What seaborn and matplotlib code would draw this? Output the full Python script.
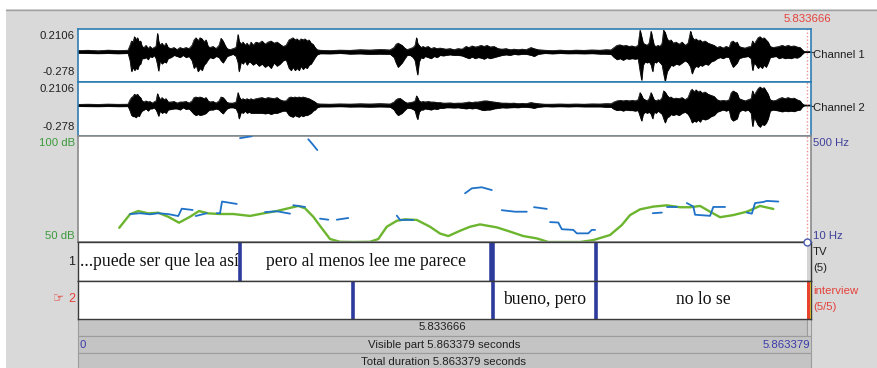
import numpy as np
import pandas as pd
import matplotlib
matplotlib.use("Agg")
import matplotlib.pyplot as plt
from matplotlib.patches import Rectangle
import seaborn as sns

# ---------------- data ----------------
TOTAL = 5.863379
CURSOR_T = 5.833666
WAVE_YMIN, WAVE_YMAX = -0.278, 0.2106
DB_MIN, DB_MAX = 50, 100
HZ_MIN, HZ_MAX = 10, 500

# waveform amplitude envelope (seconds, upper / lower values per channel)
WAVE_T = [0.000, 0.080, 0.160, 0.240, 0.320, 0.400, 0.416, 0.428, 0.440, 0.452,
          0.464, 0.476, 0.488, 0.500, 0.512, 0.528, 0.544, 0.560, 0.576, 0.592,
          0.608, 0.624, 0.636, 0.644, 0.656, 0.672, 0.688, 0.704, 0.720, 0.744,
          0.768, 0.792, 0.816, 0.840, 0.864, 0.888, 0.912, 0.928, 0.944, 0.960,
          0.976, 0.992, 1.008, 1.024, 1.040, 1.056, 1.080, 1.104, 1.128, 1.144,
          1.160, 1.176, 1.192, 1.216, 1.240, 1.264, 1.280, 1.288, 1.304, 1.320,
          1.336, 1.352, 1.368, 1.384, 1.400, 1.424, 1.448, 1.472, 1.496, 1.520,
          1.544, 1.568, 1.592, 1.616, 1.640, 1.664, 1.688, 1.704, 1.720, 1.736,
          1.752, 1.768, 1.784, 1.800, 1.816, 1.832, 1.848, 1.864, 1.880, 1.896,
          1.912, 1.936, 2.016, 2.096, 2.176, 2.256, 2.336, 2.416, 2.496, 2.528,
          2.544, 2.560, 2.576, 2.592, 2.608, 2.632, 2.656, 2.680, 2.696, 2.708,
          2.716, 2.728, 2.744, 2.760, 2.776, 2.800, 2.824, 2.848, 2.872, 2.896,
          2.920, 2.944, 2.976, 3.008, 3.040, 3.072, 3.104, 3.128, 3.152, 3.176,
          3.200, 3.224, 3.248, 3.272, 3.296, 3.328, 3.360, 3.392, 3.424, 3.456,
          3.488, 3.520, 3.552, 3.584, 3.624, 3.648, 3.680, 3.736, 3.792, 3.856,
          3.920, 3.984, 4.048, 4.112, 4.176, 4.224, 4.264, 4.288, 4.312, 4.336,
          4.360, 4.384, 4.408, 4.432, 4.456, 4.480, 4.496, 4.508, 4.520, 4.536,
          4.552, 4.568, 4.584, 4.596, 4.608, 4.624, 4.640, 4.656, 4.672, 4.684,
          4.696, 4.712, 4.728, 4.744, 4.760, 4.784, 4.808, 4.832, 4.856, 4.880,
          4.900, 4.912, 4.928, 4.944, 4.960, 4.976, 4.992, 5.016, 5.040, 5.064,
          5.088, 5.112, 5.136, 5.160, 5.184, 5.208, 5.224, 5.240, 5.256, 5.272,
          5.288, 5.312, 5.336, 5.360, 5.384, 5.396, 5.408, 5.424, 5.440, 5.456,
          5.472, 5.488, 5.504, 5.520, 5.536, 5.560, 5.584, 5.608, 5.632, 5.656,
          5.680, 5.704, 5.728, 5.752, 5.776, 5.792, 5.808, 5.863]
CH1_HI = [0.012, 0.015, 0.010, 0.016, 0.012, 0.015, 0.06, 0.10, 0.09, 0.14,
          0.11, 0.13, 0.09, 0.10, 0.05, 0.04, 0.06, 0.03, 0.05, 0.03,
          0.04, 0.05, 0.17, 0.10, 0.06, 0.08, 0.05, 0.08, 0.04, 0.03,
          0.04, 0.02, 0.04, 0.03, 0.04, 0.03, 0.06, 0.11, 0.13, 0.10,
          0.13, 0.12, 0.09, 0.11, 0.05, 0.04, 0.05, 0.03, 0.06, 0.125,
          0.10, 0.06, 0.03, 0.02, 0.03, 0.04, 0.16, 0.10, 0.07, 0.09,
          0.06, 0.08, 0.05, 0.09, 0.06, 0.09, 0.08, 0.10, 0.07, 0.09,
          0.10, 0.08, 0.09, 0.07, 0.05, 0.06, 0.11, 0.12, 0.13, 0.11,
          0.12, 0.10, 0.12, 0.11, 0.12, 0.10, 0.11, 0.08, 0.07, 0.04,
          0.02, 0.015, 0.012, 0.016, 0.014, 0.020, 0.017, 0.022, 0.018, 0.04,
          0.07, 0.08, 0.07, 0.06, 0.04, 0.02, 0.03, 0.04, 0.06, 0.13,
          0.08, 0.06, 0.04, 0.05, 0.04, 0.05, 0.03, 0.04, 0.03, 0.035,
          0.03, 0.025, 0.03, 0.02, 0.03, 0.025, 0.05, 0.04, 0.055, 0.045,
          0.05, 0.06, 0.05, 0.06, 0.045, 0.05, 0.03, 0.025, 0.03, 0.02,
          0.025, 0.02, 0.025, 0.02, 0.04, 0.03, 0.02, 0.015, 0.012, 0.016,
          0.012, 0.016, 0.014, 0.018, 0.015, 0.02, 0.018, 0.04, 0.06, 0.065,
          0.055, 0.06, 0.05, 0.055, 0.045, 0.06, 0.20, 0.14, 0.08, 0.07,
          0.06, 0.08, 0.19, 0.12, 0.06, 0.05, 0.06, 0.05, 0.08, 0.20,
          0.18, 0.12, 0.10, 0.11, 0.08, 0.09, 0.07, 0.09, 0.06, 0.08,
          0.19, 0.14, 0.11, 0.12, 0.10, 0.11, 0.09, 0.10, 0.08, 0.07,
          0.06, 0.04, 0.05, 0.035, 0.05, 0.04, 0.09, 0.10, 0.08, 0.09,
          0.05, 0.04, 0.035, 0.045, 0.05, 0.10, 0.07, 0.10, 0.13, 0.14,
          0.12, 0.13, 0.11, 0.09, 0.05, 0.04, 0.045, 0.05, 0.06, 0.05,
          0.06, 0.05, 0.055, 0.045, 0.04, 0.02, 0.004, 0.002]
CH1_LO = [-0.010, -0.012, -0.014, -0.012, -0.015, -0.012, -0.08, -0.18, -0.14, -0.17,
          -0.15, -0.16, -0.12, -0.11, -0.06, -0.06, -0.05, -0.07, -0.04, -0.05,
          -0.03, -0.06, -0.12, -0.175, -0.08, -0.11, -0.09, -0.10, -0.06, -0.05,
          -0.03, -0.04, -0.05, -0.03, -0.05, -0.04, -0.08, -0.15, -0.12, -0.18,
          -0.15, -0.17, -0.12, -0.10, -0.07, -0.05, -0.06, -0.04, -0.05, -0.08,
          -0.10, -0.07, -0.04, -0.03, -0.02, -0.04, -0.10, -0.18, -0.09, -0.11,
          -0.08, -0.12, -0.09, -0.10, -0.12, -0.10, -0.13, -0.11, -0.14, -0.12,
          -0.15, -0.10, -0.13, -0.11, -0.08, -0.07, -0.15, -0.17, -0.14, -0.17,
          -0.15, -0.17, -0.13, -0.16, -0.14, -0.15, -0.12, -0.11, -0.08, -0.05,
          -0.025, -0.015, -0.016, -0.012, -0.018, -0.016, -0.020, -0.018, -0.020, -0.05,
          -0.10, -0.14, -0.12, -0.10, -0.07, -0.03, -0.03, -0.05, -0.08, -0.16,
          -0.21, -0.09, -0.05, -0.06, -0.04, -0.05, -0.06, -0.04, -0.05, -0.03,
          -0.035, -0.03, -0.025, -0.03, -0.03, -0.035, -0.05, -0.06, -0.045, -0.06,
          -0.05, -0.055, -0.065, -0.05, -0.06, -0.05, -0.04, -0.03, -0.025, -0.03,
          -0.02, -0.025, -0.02, -0.02, -0.03, -0.04, -0.02, -0.012, -0.016, -0.012,
          -0.015, -0.014, -0.016, -0.014, -0.018, -0.018, -0.022, -0.05, -0.07, -0.06,
          -0.075, -0.06, -0.065, -0.06, -0.065, -0.06, -0.18, -0.26, -0.12, -0.09,
          -0.10, -0.09, -0.12, -0.18, -0.09, -0.10, -0.08, -0.10, -0.12, -0.20,
          -0.27, -0.18, -0.15, -0.12, -0.13, -0.11, -0.12, -0.10, -0.08, -0.10,
          -0.14, -0.20, -0.15, -0.13, -0.14, -0.12, -0.13, -0.11, -0.12, -0.09,
          -0.08, -0.06, -0.05, -0.06, -0.045, -0.05, -0.10, -0.14, -0.12, -0.10,
          -0.06, -0.05, -0.045, -0.04, -0.06, -0.17, -0.10, -0.12, -0.15, -0.13,
          -0.15, -0.12, -0.14, -0.10, -0.05, -0.045, -0.04, -0.06, -0.05, -0.06,
          -0.055, -0.06, -0.05, -0.055, -0.04, -0.02, -0.004, -0.002]
CH2_HI = [0.008, 0.010, 0.008, 0.011, 0.009, 0.010, 0.05, 0.07, 0.08, 0.10,
          0.09, 0.10, 0.08, 0.07, 0.04, 0.03, 0.04, 0.03, 0.035, 0.02,
          0.03, 0.04, 0.105, 0.08, 0.05, 0.07, 0.05, 0.06, 0.03, 0.03,
          0.035, 0.02, 0.03, 0.03, 0.035, 0.02, 0.04, 0.07, 0.075, 0.07,
          0.075, 0.07, 0.06, 0.07, 0.04, 0.03, 0.035, 0.02, 0.04, 0.075,
          0.07, 0.05, 0.025, 0.02, 0.02, 0.03, 0.115, 0.08, 0.05, 0.06,
          0.05, 0.06, 0.05, 0.06, 0.05, 0.06, 0.065, 0.07, 0.06, 0.07,
          0.065, 0.06, 0.07, 0.05, 0.04, 0.04, 0.07, 0.075, 0.07, 0.075,
          0.07, 0.075, 0.07, 0.075, 0.07, 0.065, 0.06, 0.05, 0.04, 0.03,
          0.015, 0.012, 0.010, 0.013, 0.011, 0.014, 0.012, 0.015, 0.012, 0.03,
          0.05, 0.06, 0.063, 0.05, 0.035, 0.02, 0.025, 0.03, 0.04, 0.085,
          0.07, 0.04, 0.03, 0.035, 0.03, 0.035, 0.03, 0.03, 0.025, 0.025,
          0.02, 0.02, 0.022, 0.018, 0.02, 0.02, 0.025, 0.03, 0.025, 0.03,
          0.03, 0.035, 0.04, 0.04, 0.035, 0.03, 0.025, 0.02, 0.02, 0.018,
          0.02, 0.015, 0.018, 0.015, 0.025, 0.02, 0.015, 0.01, 0.01, 0.012,
          0.01, 0.012, 0.01, 0.013, 0.012, 0.015, 0.014, 0.03, 0.04, 0.045,
          0.04, 0.045, 0.04, 0.045, 0.04, 0.05, 0.115, 0.09, 0.06, 0.05,
          0.04, 0.06, 0.115, 0.08, 0.05, 0.04, 0.05, 0.045, 0.07, 0.13,
          0.12, 0.09, 0.07, 0.075, 0.06, 0.065, 0.06, 0.07, 0.05, 0.07,
          0.13, 0.145, 0.12, 0.14, 0.12, 0.13, 0.11, 0.12, 0.10, 0.09,
          0.08, 0.05, 0.04, 0.045, 0.04, 0.05, 0.11, 0.13, 0.12, 0.11,
          0.06, 0.05, 0.04, 0.05, 0.06, 0.13, 0.09, 0.12, 0.15, 0.166,
          0.15, 0.16, 0.13, 0.10, 0.05, 0.04, 0.045, 0.06, 0.07, 0.06,
          0.07, 0.06, 0.065, 0.05, 0.04, 0.015, 0.003, 0.002]
CH2_LO = [-0.008, -0.009, -0.010, -0.008, -0.010, -0.009, -0.05, -0.09, -0.10, -0.10,
          -0.11, -0.09, -0.10, -0.07, -0.05, -0.04, -0.03, -0.05, -0.03, -0.03,
          -0.02, -0.04, -0.07, -0.097, -0.05, -0.07, -0.06, -0.07, -0.04, -0.035,
          -0.03, -0.03, -0.04, -0.02, -0.035, -0.03, -0.06, -0.08, -0.09, -0.08,
          -0.09, -0.085, -0.08, -0.07, -0.05, -0.04, -0.04, -0.03, -0.04, -0.06,
          -0.075, -0.05, -0.03, -0.02, -0.02, -0.03, -0.07, -0.12, -0.06, -0.07,
          -0.05, -0.07, -0.06, -0.07, -0.07, -0.07, -0.07, -0.07, -0.075, -0.07,
          -0.08, -0.07, -0.07, -0.06, -0.05, -0.05, -0.09, -0.10, -0.105, -0.09,
          -0.10, -0.105, -0.09, -0.10, -0.09, -0.09, -0.08, -0.07, -0.05, -0.04,
          -0.02, -0.012, -0.012, -0.010, -0.013, -0.012, -0.014, -0.012, -0.014, -0.04,
          -0.07, -0.09, -0.08, -0.07, -0.05, -0.025, -0.025, -0.035, -0.05, -0.10,
          -0.127, -0.06, -0.04, -0.04, -0.03, -0.035, -0.04, -0.03, -0.035, -0.025,
          -0.025, -0.02, -0.02, -0.022, -0.02, -0.025, -0.03, -0.025, -0.03, -0.025,
          -0.03, -0.04, -0.045, -0.04, -0.04, -0.03, -0.025, -0.02, -0.022, -0.02,
          -0.018, -0.02, -0.015, -0.015, -0.02, -0.025, -0.015, -0.01, -0.012, -0.01,
          -0.012, -0.01, -0.012, -0.012, -0.012, -0.015, -0.016, -0.035, -0.045, -0.04,
          -0.05, -0.04, -0.045, -0.045, -0.05, -0.045, -0.10, -0.14, -0.08, -0.06,
          -0.07, -0.06, -0.08, -0.12, -0.06, -0.07, -0.05, -0.065, -0.08, -0.12,
          -0.157, -0.11, -0.10, -0.08, -0.09, -0.08, -0.09, -0.07, -0.06, -0.08,
          -0.12, -0.157, -0.14, -0.15, -0.13, -0.15, -0.12, -0.13, -0.12, -0.10,
          -0.09, -0.06, -0.05, -0.04, -0.05, -0.04, -0.12, -0.14, -0.13, -0.12,
          -0.06, -0.04, -0.05, -0.04, -0.07, -0.19, -0.11, -0.14, -0.18, -0.196,
          -0.17, -0.18, -0.16, -0.12, -0.05, -0.04, -0.045, -0.05, -0.057, -0.05,
          -0.055, -0.05, -0.055, -0.045, -0.04, -0.015, -0.003, -0.002]

INT_T = [0.330, 0.416, 0.482, 0.562, 0.642, 0.722, 0.808, 0.896, 0.968, 1.042,
         1.136, 1.242, 1.376, 1.482, 1.590, 1.682, 1.762, 1.816, 1.882, 1.950,
         2.016, 2.096, 2.202, 2.336, 2.402, 2.470, 2.550, 2.616, 2.710, 2.816,
         2.896, 2.962, 3.056, 3.136, 3.216, 3.350, 3.456, 3.562, 3.670, 3.762,
         3.882, 4.016, 4.122, 4.256, 4.350, 4.416, 4.496, 4.602, 4.710, 4.816,
         4.896, 4.976, 5.056, 5.136, 5.242, 5.350, 5.456, 5.562]
INT_DB = [56.7, 63.1, 64.6, 63.5, 63.8, 61.9, 59.1, 61.9, 64.6, 63.5,
          63.2, 63.2, 62.3, 63.5, 64.6, 65.9, 67.0, 65.9, 61.9, 56.5,
          51.4, 50.1, 50.0, 50.1, 51.4, 57.2, 60.0, 60.7, 60.4, 57.2,
          54.0, 52.8, 55.3, 57.2, 58.3, 56.9, 54.9, 52.8, 51.7, 50.0,
          50.0, 50.0, 50.9, 53.3, 58.0, 62.7, 65.4, 66.7, 67.3, 66.4,
          66.4, 67.0, 64.3, 61.7, 62.7, 64.3, 67.0, 65.6]

PITCH_T = [1.296, 1.390,
           1.842, 1.872, 1.914,
           0.416, 0.496, 0.576, 0.642, 0.722, 0.802, 0.830, 0.917,
           0.942, 1.030,
           1.110, 1.136, 1.152, 1.270,
           1.496, 1.592, 1.696,
           1.722, 1.816,
           1.936, 2.002,
           2.070, 2.162,
           2.550, 2.576, 2.682,
           3.096, 3.150, 3.230, 3.310,
           3.390, 3.496, 3.590,
           3.648, 3.750,
           3.776, 3.842, 3.870, 3.962, 3.990, 4.082, 4.110, 4.136,
           4.598, 4.670,
           4.710, 4.790,
           4.870, 4.922, 4.936, 5.056, 5.082, 5.176,
           5.350, 5.390, 5.416, 5.482, 5.510, 5.602]
PITCH_HZ = [490, 499,
            485, 465, 435,
            139, 143, 138, 143, 139, 130, 164, 158,
            130, 143,
            143, 143, 197, 186,
            148, 152, 141,
            180, 172,
            118, 113,
            113, 121,
            132, 112, 112,
            235, 258, 263, 250,
            157, 150, 150,
            171, 163,
            102, 100, 69, 66, 50, 50, 66, 66,
            143, 146,
            172, 172,
            190, 174, 136, 131, 172, 172,
            146, 141, 190, 195, 200, 197]
PITCH_SEG = [0, 0,
             1, 1, 1,
             2, 2, 2, 2, 2, 2, 2, 2,
             3, 3,
             4, 4, 4, 4,
             5, 5, 5,
             6, 6,
             7, 7,
             8, 8,
             9, 9, 9,
             10, 10, 10, 10,
             11, 11, 11,
             12, 12,
             13, 13, 13, 13, 13, 13, 13, 13,
             14, 14,
             15, 15,
             16, 16, 16, 16, 16, 16,
             17, 17, 17, 17, 17, 17]

TIER1_BOUNDS = [1.296, 3.308, 4.144]
TIER1_TEXT = ["...puede ser que lea así", "pero al menos lee me parece", "", ""]
TIER2_BOUNDS = [2.202, 3.322, 4.144]
TIER2_TEXT = ["", "", "bueno, pero", "no lo se"]

# ---------------- style ----------------
sns.set_style("white")
plt.rcParams['font.family'] = ['Liberation Sans', 'DejaVu Sans']

W, H = 878, 368
fig = plt.figure(figsize=(W / 100, H / 100), dpi=100)
fig.patch.set_facecolor('#d9d9d9')

BAR = '#c4c4c4'
WAVE_EDGE = '#2f7db3'
BOUND = '#2d3c9c'
GREEN = '#6cb52e'
BLUE = '#1f72c8'
RED = '#e5413a'


def rect(px0, py0, px1, py1):
    return [px0 / W, 1 - py1 / H, (px1 - px0) / W, (py1 - py0) / H]


# background (pixel coordinates)
bg = fig.add_axes([0, 0, 1, 1], zorder=0)
bg.set_xlim(0, W)
bg.set_ylim(H, 0)
bg.axis('off')
bg.add_patch(Rectangle((0, 0), W, 9, color='white', lw=0))
bg.add_patch(Rectangle((0, 0), 6, H, color='white', lw=0))
bg.plot([6, W], [9.5, 9.5], color='#a0a0a0', lw=1)
bg.add_patch(Rectangle((78, 319), 729, 17, facecolor=BAR, edgecolor='#9c9c9c', lw=0.8))
bg.add_patch(Rectangle((807, 319), 4, 17, facecolor='#d0d0d0', edgecolor='#9c9c9c', lw=0.8))
bg.add_patch(Rectangle((78, 336), 733, 17, facecolor=BAR, edgecolor='#9c9c9c', lw=0.8))
bg.add_patch(Rectangle((78, 353), 733, 16, facecolor=BAR, edgecolor='#9c9c9c', lw=0.8))
bg.plot([811, 813], [51.7, 51.7], color='#303030', lw=0.8)
bg.plot([811, 813], [105.7, 105.7], color='#303030', lw=0.8)

FS = 8.2
bg.text(807.3, 19, "5.833666", color=RED, fontsize=FS, ha='center', va='center')
bg.text(75, 36, "0.2106", fontsize=FS, ha='right', va='center', color='#202020')
bg.text(75, 72, "-0.278", fontsize=FS, ha='right', va='center', color='#202020')
bg.text(75, 89, "0.2106", fontsize=FS, ha='right', va='center', color='#202020')
bg.text(75, 127, "-0.278", fontsize=FS, ha='right', va='center', color='#202020')
bg.text(813, 55, "Channel 1", fontsize=FS, ha='left', va='center', color='#202020')
bg.text(813, 108, "Channel 2", fontsize=FS, ha='left', va='center', color='#202020')
bg.text(75, 143, "100 dB", fontsize=FS, ha='right', va='center', color='#3a9a3a')
bg.text(75, 236, "50 dB", fontsize=FS, ha='right', va='center', color='#3a9a3a')
bg.text(813, 143, "500 Hz", fontsize=FS, ha='left', va='center', color='#40409a')
bg.text(813, 236, "10 Hz", fontsize=FS, ha='left', va='center', color='#40409a')
bg.text(75, 262, "1", fontsize=9, ha='right', va='center', color='#202020')
bg.text(75, 299, "2", fontsize=9, ha='right', va='center', color=RED)
bg.text(64, 299, "\u261e", fontsize=9, ha='right', va='center', color=RED,
        family=['DejaVu Sans'])
bg.text(813, 252, "TV", fontsize=FS, ha='left', va='center', color='#202020')
bg.text(813, 268, "(5)", fontsize=FS, ha='left', va='center', color='#202020')
bg.text(813, 291, "interview", fontsize=FS, ha='left', va='center', color=RED)
bg.text(813, 307, "(5/5)", fontsize=FS, ha='left', va='center', color=RED)
bg.text(442.5, 327.5, "5.833666", fontsize=FS, ha='center', va='center', color='#202020')
bg.text(80, 345, "0", fontsize=FS, ha='left', va='center', color='#3a3aa8')
bg.text(444, 345, "Visible part 5.863379 seconds", fontsize=FS, ha='center', va='center', color='#202020')
bg.text(810, 345, "5.863379", fontsize=FS, ha='right', va='center', color='#3a3aa8')
bg.text(444, 362, "Total duration 5.863379 seconds", fontsize=FS, ha='center', va='center', color='#202020')

# ---------------- waveform channels ----------------
wave = pd.DataFrame({'t': WAVE_T, 'c1hi': CH1_HI, 'c1lo': CH1_LO,
                     'c2hi': CH2_HI, 'c2lo': CH2_LO})
for (y0, y1), hi, lo in [((29, 82), 'c1hi', 'c1lo'), ((82, 136), 'c2hi', 'c2lo')]:
    ax = fig.add_axes(rect(78, y0, 811, y1), zorder=2)
    ax.set_facecolor('white')
    ax.fill_between(wave['t'], wave[lo], wave[hi], color='black', lw=0.5)
    sns.lineplot(data=wave, x='t', y=hi, color='black', lw=0.5, ax=ax)
    sns.lineplot(data=wave, x='t', y=lo, color='black', lw=0.5, ax=ax)
    ax.axvline(CURSOR_T, color='#f09090', ls=(0, (1, 1.5)), lw=1)
    ax.set_xlim(0, TOTAL)
    ax.set_ylim(WAVE_YMIN, WAVE_YMAX)
    ax.set_xticks([]); ax.set_yticks([])
    ax.set_xlabel(''); ax.set_ylabel('')
    for s in ax.spines.values():
        s.set_color(WAVE_EDGE); s.set_linewidth(1.2); s.set_visible(True)

# ---------------- pitch / intensity ----------------
axi = fig.add_axes(rect(78, 136, 811, 242), zorder=2)
axi.set_facecolor('white')
inten = pd.DataFrame({'t': INT_T, 'db': INT_DB})
sns.lineplot(data=inten, x='t', y='db', color=GREEN, lw=1.7, ax=axi)
axi.set_xlim(0, TOTAL)
axi.set_ylim(DB_MIN, DB_MAX)
axi.axvline(CURSOR_T, color='#f09090', ls=(0, (1, 1.5)), lw=1)
axi.set_xticks([]); axi.set_yticks([])
axi.set_xlabel(''); axi.set_ylabel('')
for s in axi.spines.values():
    s.set_color('#8a8a8a'); s.set_linewidth(1.2); s.set_visible(True)

axp = axi.twinx()
pitch = pd.DataFrame({'t': PITCH_T, 'hz': PITCH_HZ, 'seg': PITCH_SEG})
sns.lineplot(data=pitch, x='t', y='hz', units='seg', estimator=None, sort=False,
             color=BLUE, lw=1.3, ax=axp, legend=False)
axp.set_ylim(HZ_MIN, HZ_MAX)
axp.set_xlim(0, TOTAL)
axp.set_xticks([]); axp.set_yticks([])
axp.set_xlabel(''); axp.set_ylabel('')
for s in axp.spines.values():
    s.set_visible(False)

# ---------------- tiers ----------------
def draw_tier(y0, y1, bounds, texts, thick):
    ax = fig.add_axes(rect(78, y0, 811, y1), zorder=3)
    ax.set_facecolor('white')
    ax.set_xlim(0, TOTAL)
    ax.set_ylim(0, 1)
    edges = [0.0] + list(bounds) + [TOTAL]
    for i, txt in enumerate(texts):
        if txt:
            ax.text((edges[i] + edges[i + 1]) / 2, 0.5, txt, ha='center', va='center',
                    fontsize=12.7, family=['Liberation Serif'], color='#111111')
    for j, b in enumerate(bounds):
        ax.axvline(b, color=BOUND, lw=(4 if j == thick else 2.6))
    ax.set_xticks([]); ax.set_yticks([])
    for s in ax.spines.values():
        s.set_color('#3a3a3a'); s.set_linewidth(1.0); s.set_visible(True)
    return ax

t1 = draw_tier(242, 281, TIER1_BOUNDS, TIER1_TEXT, 1)
t1.axvspan(CURSOR_T, TOTAL, color='#d4d4d4', lw=0)
t1.plot([CURSOR_T], [1.0], 'o', ms=5, mfc='white', mec='#4a5ab0', mew=1, clip_on=False, zorder=5)
t2 = draw_tier(281, 319, TIER2_BOUNDS, TIER2_TEXT, -1)
t2.axvspan(CURSOR_T, TOTAL, color='#e8412c', lw=0)
t2.axvline(TOTAL, color='#f2d22a', lw=1.5)

fig.savefig("out.png", dpi=100, facecolor=fig.get_facecolor())
